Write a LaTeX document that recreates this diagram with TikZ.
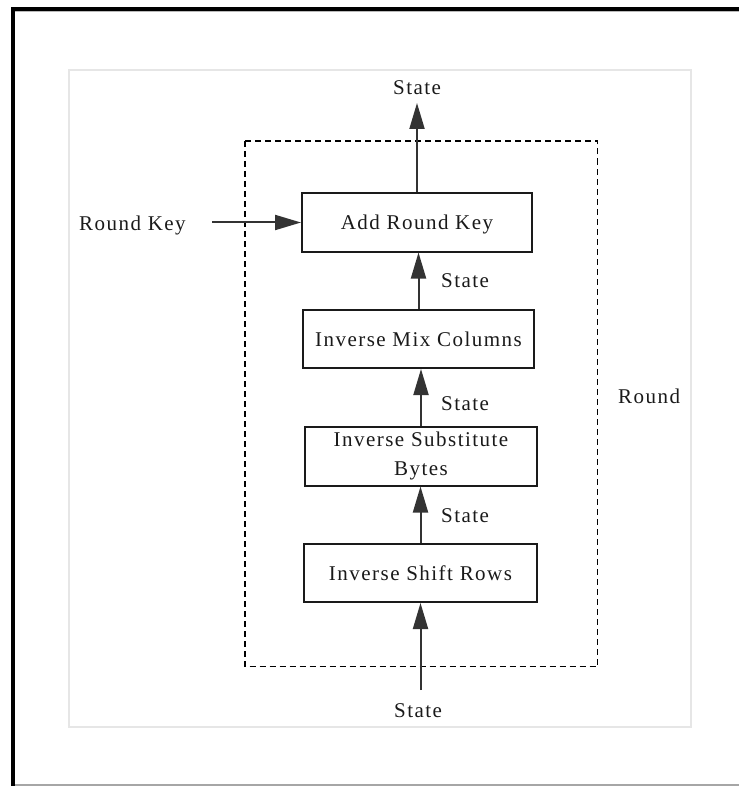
\documentclass[tikz,border=0pt]{standalone}
\usepackage{fontspec}
\setmainfont{Liberation Serif}[LetterSpace=7]
\usetikzlibrary{arrows.meta}
\definecolor{ink}{HTML}{1A1A1A}
\definecolor{arrowc}{HTML}{333333}
\definecolor{frameg}{HTML}{E6E6E6}
\begin{document}
\begin{tikzpicture}[x=1pt,y=-1pt,
  font=\fontsize{21}{29}\selectfont,
  stepbox/.style={draw=ink, line width=2pt, fill=white, inner sep=0pt,
    minimum height=58pt, align=center, text=ink},
  lbl/.style={anchor=base west, inner sep=0pt, text=ink},
  arr/.style={draw=arrowc, line width=2pt, -{Triangle[length=26pt,width=15pt]}}
]
\useasboundingbox (0,0) rectangle (739,786);
% outer frame
\draw[gray!55, line width=1pt] (15,11.5) -- (739,11.5);
\draw[black, line width=4pt] (739,8.7) -- (13,8.7) -- (13,786);
\draw[gray!70, line width=1.5pt] (15,785) -- (739,785);
% inner light frame
\draw[frameg, line width=1.5pt] (69,70) rectangle (691,727);
% dashed round frame
\draw[black, line width=1.2pt, dash pattern=on 6pt off 4pt] (245,141) rectangle (597.5,666.5);
% boxes
\node[stepbox, minimum width=230pt, text height=14pt, text depth=0pt] (ark) at (417,222.5) {Add Round Key};
\node[stepbox, minimum width=231pt, text height=14pt, text depth=0pt] (imc) at (418.5,339) {Inverse Mix Columns};
\node[stepbox, minimum width=232pt, minimum height=59pt] (isb) at (421,456) {Inverse Substitute\\Bytes};
\node[stepbox, minimum width=233pt, text height=14pt, text depth=0pt] (isr) at (420.5,573) {Inverse Shift Rows};
% labels
\node[lbl] (sttop) at (393,95) {State};
\node[lbl] (stbot) at (394,717) {State};
\node[lbl] (st1) at (441,287) {State};
\node[lbl] (st2) at (441,410) {State};
\node[lbl] (st3) at (441,522) {State};
\node[lbl] (rk) at (79,230) {Round Key};
\node[lbl] (rnd) at (618,403) {Round};
% free ends
\coordinate (toptip) at (418,103);
\coordinate (botstart) at (420.5,690);
\coordinate (rkstart) at (212,222.5);
% connectors
\draw[arr] (ark.north) -- (ark.north |- toptip);
\draw[arr] (imc.north) -- (imc.north |- ark.south);
\draw[arr] (isb.north) -- (isb.north |- imc.south);
\draw[arr] (isr.north) -- (isr.north |- isb.south);
\draw[arr] (botstart) -- (botstart |- isr.south);
\draw[arr] (rkstart) -- (ark.west);
\end{tikzpicture}
\end{document}
